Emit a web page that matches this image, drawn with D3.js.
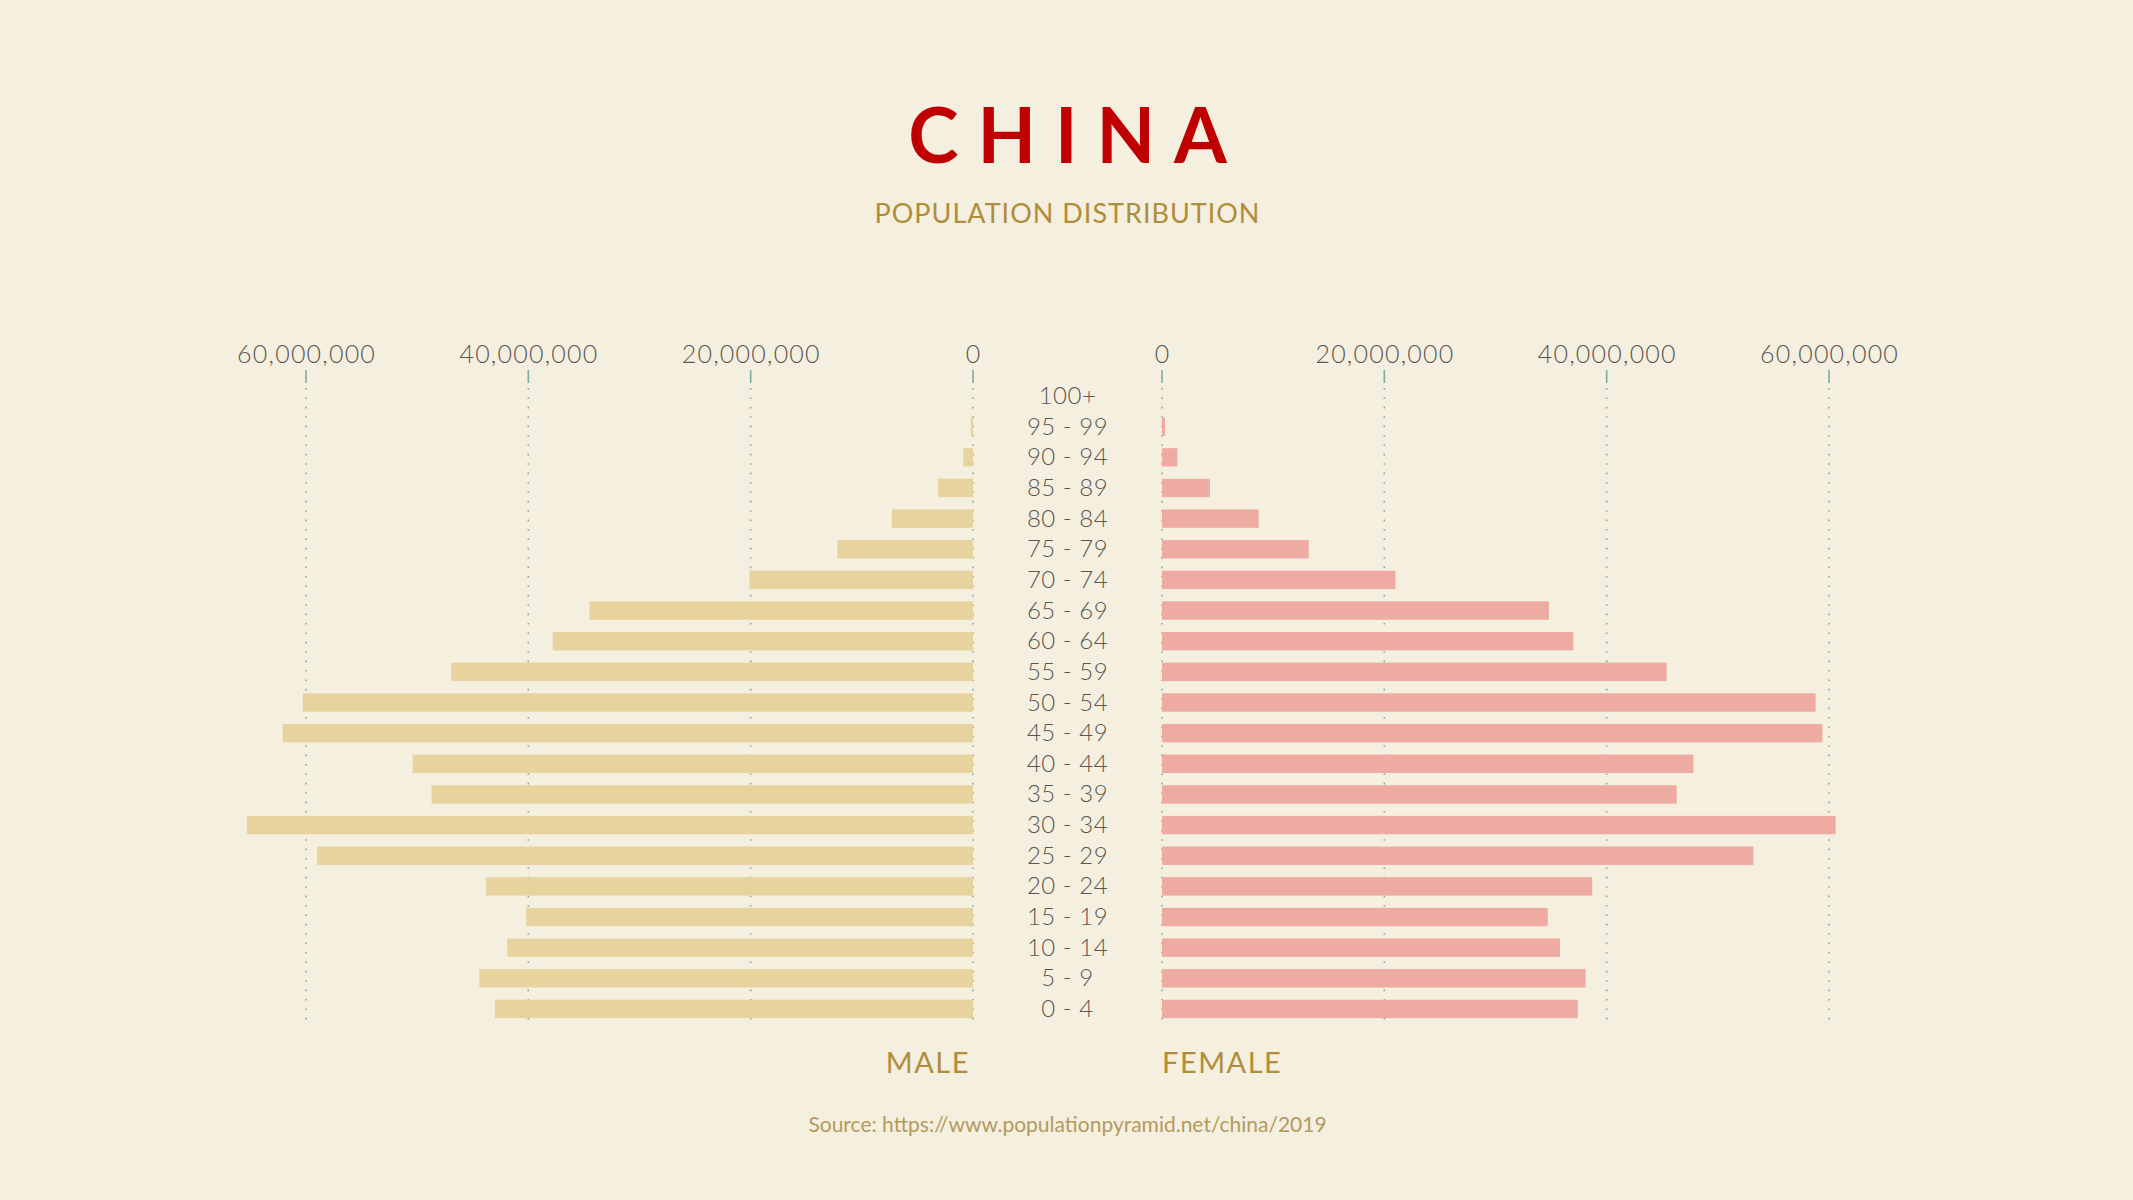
<!DOCTYPE html>
<html>
<head>
<meta charset="utf-8">
<script src="https://cdn.jsdelivr.net/npm/d3@7"></script>
<style>
  html, body { margin: 0; padding: 0; background: #f5efdf; }
  svg { display: block; }
  text { font-family: Lato, "Open Sans", sans-serif; }
</style>
</head>
<body>
<svg id="chart" width="2133" height="1200"></svg>
<script>
// ---- data ----
const ageGroups = ["100+","95 - 99","90 - 94","85 - 89","80 - 84","75 - 79","70 - 74","65 - 69","60 - 64","55 - 59","50 - 54","45 - 49","40 - 44","35 - 39","30 - 34","25 - 29","20 - 24","15 - 19","10 - 14","5 - 9","0 - 4"];
const maleValues = [4000, 200000, 870000, 3150000, 7300000, 12200000, 20100000, 34500000, 37800000, 46950000, 60300000, 62100000, 50400000, 48700000, 65300000, 59000000, 43800000, 40200000, 41900000, 44400000, 43000000];
const femaleValues = [20000, 270000, 1380000, 4310000, 8700000, 13200000, 21000000, 34800000, 37000000, 45400000, 58800000, 59400000, 47800000, 46300000, 60600000, 53200000, 38700000, 34700000, 35800000, 38100000, 37400000];
const tickValues = [0, 20000000, 40000000, 60000000];
const titleText = "CHINA";
const subtitleText = "POPULATION DISTRIBUTION";
const maleLabel = "MALE";
const femaleLabel = "FEMALE";
const sourceText = "Source: https://www.populationpyramid.net/china/2019";

// ---- styles ----
const C = {
  bg: "#f5efdf",
  male: "#e6d39e",
  female: "#eeaba1",
  title: "#c00000",
  gold: "#b08d3a",
  source: "#b39a5e",
  text: "#5a5752",
  grid: "#78aea2"
};

const svg = d3.select("#chart");
svg.append("rect").attr("width", 2133).attr("height", 1200).attr("fill", C.bg);

const xL = d3.scaleLinear().domain([0, 60000000]).range([973, 306]);
const xR = d3.scaleLinear().domain([0, 60000000]).range([1162, 1829]);
const y = d3.scaleBand().domain(ageGroups).range([380.7, 1024.3]).paddingInner(0.4).paddingOuter(0.2);
const centerX = (xL(0) + xR(0)) / 2;
const fmt = d3.format(",");

// gridlines (dotted) and tick marks
const gridTop = 388, gridBottom = 1020;
[xL, xR].forEach(sc => {
  const g = svg.append("g");
  g.selectAll("line.grid").data(tickValues).join("line")
    .attr("x1", d => sc(d)).attr("x2", d => sc(d))
    .attr("y1", gridTop).attr("y2", gridBottom)
    .attr("stroke", C.grid).attr("stroke-width", 1.6)
    .attr("stroke-dasharray", "1.6,7.8");
  g.selectAll("line.tick").data(tickValues).join("line")
    .attr("x1", d => sc(d)).attr("x2", d => sc(d))
    .attr("y1", 370).attr("y2", 383)
    .attr("stroke", C.grid).attr("stroke-width", 1.6);
  g.selectAll("text").data(tickValues).join("text")
    .attr("x", d => sc(d) + 0.6).attr("y", 353)
    .attr("text-anchor", "middle").attr("dominant-baseline", "central")
    .attr("font-size", 25).attr("font-weight", 300).attr("fill", C.text)
    .attr("letter-spacing", 1.2)
    .text(d => fmt(d));
});

// bars
svg.append("g").selectAll("rect").data(ageGroups).join("rect")
  .attr("x", (d, i) => xL(maleValues[i]))
  .attr("y", d => y(d))
  .attr("width", (d, i) => xL(0) - xL(maleValues[i]))
  .attr("height", y.bandwidth())
  .attr("fill", C.male);

svg.append("g").selectAll("rect").data(ageGroups).join("rect")
  .attr("x", xR(0))
  .attr("y", d => y(d))
  .attr("width", (d, i) => xR(femaleValues[i]) - xR(0))
  .attr("height", y.bandwidth())
  .attr("fill", C.female);

// age labels
svg.append("g").selectAll("text").data(ageGroups).join("text")
  .attr("x", centerX).attr("y", d => y(d) + y.bandwidth() / 2 - 1.5)
  .attr("text-anchor", "middle").attr("dominant-baseline", "central")
  .attr("font-size", 24).attr("font-weight", 300).attr("fill", C.text)
  .attr("letter-spacing", 0.5)
  .text(d => d);

// title
const ls = 19;
svg.append("text")
  .attr("x", centerX + ls / 2).attr("y", 133)
  .attr("text-anchor", "middle").attr("dominant-baseline", "central")
  .attr("font-size", 76).attr("font-weight", 700).attr("fill", C.title)
  .attr("letter-spacing", ls)
  .text(titleText);

svg.append("text")
  .attr("x", centerX).attr("y", 212)
  .attr("text-anchor", "middle").attr("dominant-baseline", "central")
  .attr("font-size", 27).attr("font-weight", 400).attr("fill", C.gold)
  .attr("letter-spacing", 1)
  .text(subtitleText);

// side labels
svg.append("text")
  .attr("x", xL(0) - 3).attr("y", 1061)
  .attr("text-anchor", "end").attr("dominant-baseline", "central")
  .attr("font-size", 29).attr("font-weight", 400).attr("fill", C.gold)
  .attr("letter-spacing", 1.5)
  .text(maleLabel);

svg.append("text")
  .attr("x", xR(0)).attr("y", 1061)
  .attr("text-anchor", "start").attr("dominant-baseline", "central")
  .attr("font-size", 29).attr("font-weight", 400).attr("fill", C.gold)
  .attr("letter-spacing", 1.5)
  .text(femaleLabel);

svg.append("text")
  .attr("x", centerX).attr("y", 1123)
  .attr("text-anchor", "middle").attr("dominant-baseline", "central")
  .attr("font-size", 21).attr("font-weight", 400).attr("fill", C.source)
  .text(sourceText);
</script>
</body>
</html>
